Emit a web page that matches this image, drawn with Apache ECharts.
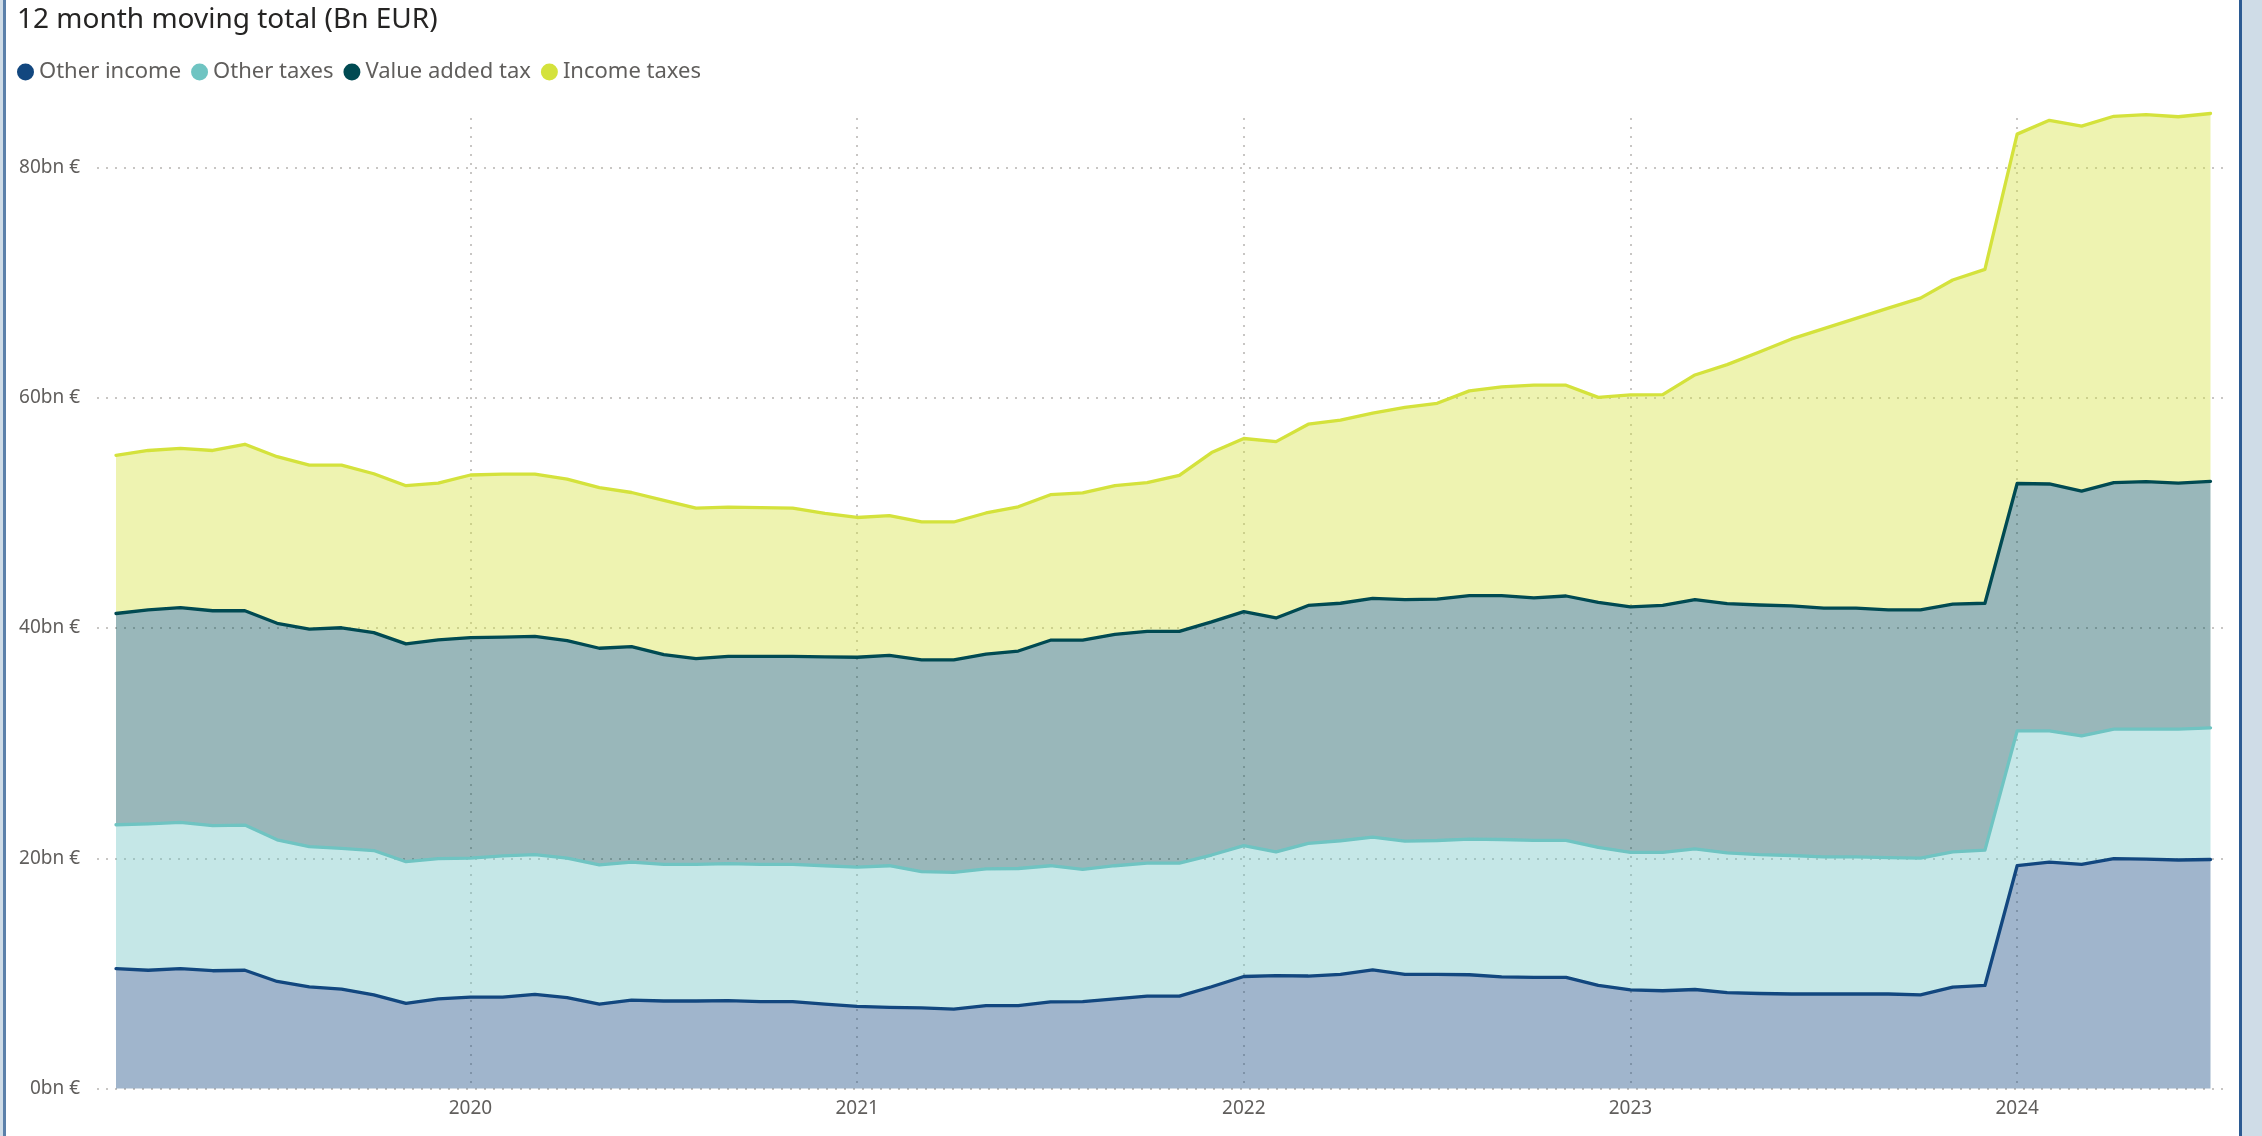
<!DOCTYPE html>
<html>
<head>
<meta charset="utf-8">
<title>12 month moving total</title>
<script src="https://cdn.jsdelivr.net/npm/echarts@6.0.0/dist/echarts.min.js"></script>
<style>
  html, body { margin: 0; padding: 0; background: #cfdce7; }
  #panel {
    position: absolute; left: 3px; top: 0; width: 2233px; height: 1136px;
    background: #fff; border-left: 3px solid #5b80aa; border-right: 3px solid #2b5a92;
  }
  #chart { position: absolute; left: 0; top: 0; width: 2262px; height: 1136px; }
</style>
</head>
<body>
<div id="panel"></div>
<div id="chart"></div>
<script>
// months, Feb 2019 - Jul 2024
const months = [
  '2019-02', '2019-03', '2019-04', '2019-05', '2019-06', '2019-07', '2019-08', '2019-09', '2019-10', '2019-11', '2019-12',
  '2020-01', '2020-02', '2020-03', '2020-04', '2020-05', '2020-06', '2020-07', '2020-08', '2020-09', '2020-10', '2020-11', '2020-12',
  '2021-01', '2021-02', '2021-03', '2021-04', '2021-05', '2021-06', '2021-07', '2021-08', '2021-09', '2021-10', '2021-11', '2021-12',
  '2022-01', '2022-02', '2022-03', '2022-04', '2022-05', '2022-06', '2022-07', '2022-08', '2022-09', '2022-10', '2022-11', '2022-12',
  '2023-01', '2023-02', '2023-03', '2023-04', '2023-05', '2023-06', '2023-07', '2023-08', '2023-09', '2023-10', '2023-11', '2023-12',
  '2024-01', '2024-02', '2024-03', '2024-04', '2024-05', '2024-06', '2024-07'
]

// bn EUR, 12 month moving totals
const otherIncome = [
  10.42, 10.27, 10.42, 10.23, 10.27, 9.30, 8.83, 8.64, 8.13, 7.40,
  7.79, 7.94, 7.94, 8.17, 7.90, 7.32, 7.67, 7.60, 7.60, 7.63,
  7.55, 7.55, 7.32, 7.13, 7.05, 7.01, 6.90, 7.20, 7.20, 7.52,
  7.55, 7.79, 8.02, 8.02, 8.84, 9.73, 9.80, 9.77, 9.92, 10.31,
  9.92, 9.92, 9.88, 9.69, 9.65, 9.65, 8.95, 8.56, 8.49, 8.60,
  8.33, 8.25, 8.21, 8.21, 8.21, 8.21, 8.13, 8.80, 8.95, 19.35,
  19.66, 19.46, 19.97, 19.93, 19.85, 19.89
]
const otherTaxes = [
  12.49, 12.72, 12.69, 12.61, 12.61, 12.30, 12.18, 12.22, 12.54, 12.30,
  12.18, 12.07, 12.26, 12.15, 12.11, 12.10, 11.99, 11.86, 11.86, 11.91,
  11.91, 11.91, 12.03, 12.10, 12.30, 11.83, 11.87, 11.88, 11.91, 11.83,
  11.49, 11.56, 11.56, 11.56, 11.44, 11.36, 10.75, 11.52, 11.60, 11.52,
  11.56, 11.62, 11.79, 11.94, 11.91, 11.91, 11.99, 11.95, 12.02, 12.22,
  12.14, 12.07, 12.03, 11.91, 11.91, 11.84, 11.88, 11.75, 11.75, 11.71,
  11.40, 11.17, 11.25, 11.29, 11.37, 11.44
]
const valueAddedTax = [
  18.35, 18.58, 18.66, 18.66, 18.62, 18.81, 18.89, 19.16, 18.93, 18.92,
  19.00, 19.16, 19.00, 18.96, 18.89, 18.82, 18.73, 18.23, 17.88, 18.00,
  18.08, 18.08, 18.15, 18.23, 18.27, 18.39, 18.46, 18.65, 18.89, 19.59,
  19.90, 20.09, 20.13, 20.13, 20.25, 20.33, 20.32, 20.67, 20.63, 20.75,
  20.99, 20.96, 21.14, 21.18, 21.06, 21.22, 21.29, 21.33, 21.45, 21.65,
  21.65, 21.68, 21.68, 21.61, 21.61, 21.52, 21.56, 21.53, 21.45, 21.49,
  21.45, 21.26, 21.41, 21.49, 21.37, 21.41
]
const incomeTaxes = [
  13.74, 13.85, 13.83, 13.92, 14.46, 14.47, 14.24, 14.12, 13.80, 13.74,
  13.62, 14.12, 14.17, 14.09, 14.04, 13.96, 13.38, 13.39, 13.08, 12.96,
  12.92, 12.88, 12.45, 12.14, 12.14, 11.98, 11.98, 12.26, 12.53, 12.64,
  12.80, 12.92, 12.92, 13.54, 14.71, 15.04, 15.32, 15.74, 15.90, 16.09,
  16.69, 17.02, 17.79, 18.13, 18.48, 18.31, 17.80, 18.41, 18.31, 19.51,
  20.76, 21.97, 23.19, 24.27, 25.17, 26.22, 27.08, 28.15, 29.00, 30.35,
  31.59, 31.70, 31.82, 31.88, 31.82, 31.95
]

const yTicks = [0, 20, 40, 60, 80]

const font = '"Segoe UI", "Noto Sans", sans-serif'
const gridDots = { color: '#c8c6c4', width: 2, type: [2, 7] }

// only January gets a label and a vertical grid line
function isJanuary (index, value) {
  return value.slice(5) === '01'
}

function areaSeries (name, data, color) {
  return {
    name: name,
    type: 'line',
    stack: 'total',
    data: data,
    xAxisIndex: 1,
    yAxisIndex: 1,
    symbol: 'none',
    clip: false,
    color: color,
    lineStyle: { color: color, width: 3.3, cap: 'round', join: 'round' },
    areaStyle: { color: color, opacity: 0.4 }
  }
}

const chart = echarts.init(document.getElementById('chart'), null, { renderer: 'canvas' })

chart.setOption({
  animation: false,
  backgroundColor: 'transparent',
  textStyle: { fontFamily: font },
  title: {
    text: '12 month moving total (Bn EUR)',
    left: 17,
    top: 6,
    padding: 0,
    textStyle: { fontFamily: font, fontSize: 28, fontWeight: 'normal', color: '#252423' }
  },
  legend: {
    left: 17,
    top: 61,
    padding: 0,
    icon: 'circle',
    itemWidth: 17,
    itemHeight: 17,
    itemGap: 10,
    textStyle: { fontFamily: font, fontSize: 22, color: '#605e5c' },
    data: ['Other income', 'Other taxes', 'Value added tax', 'Income taxes']
  },
  grid: [
    // wide grid: y labels and horizontal dotted lines
    { left: 97, right: 37, top: 118, bottom: 47.5 },
    // data grid: areas and the January lines
    { left: 116, right: 51.5, top: 118, bottom: 47.5 }
  ],
  xAxis: [
    { gridIndex: 0, type: 'value', show: false },
    {
      gridIndex: 1,
      type: 'category',
      data: months,
      boundaryGap: false,
      axisLine: { show: false },
      axisTick: { show: false },
      axisLabel: {
        interval: isJanuary,
        formatter: v => v.slice(0, 4),
        margin: 11,
        fontFamily: font,
        fontSize: 19,
        color: '#605e5c'
      },
      splitLine: { show: true, interval: isJanuary, lineStyle: gridDots }
    }
  ],
  yAxis: [
    {
      gridIndex: 0,
      type: 'value',
      min: yTicks[0],
      max: 84.3,
      interval: yTicks[1] - yTicks[0],
      axisLine: { show: false },
      axisTick: { show: false },
      axisLabel: {
        showMaxLabel: false,
        formatter: v => yTicks.includes(v) ? v + 'bn €' : '',
        margin: 17,
        fontFamily: font,
        fontSize: 19,
        color: '#605e5c'
      },
      splitLine: { show: true, showMaxLine: false, lineStyle: gridDots }
    },
    {
      gridIndex: 1,
      type: 'value',
      min: yTicks[0],
      max: 84.3,
      show: false,
      splitLine: { show: false }
    }
  ],
  series: [
    areaSeries('Other income', otherIncome, '#12477f'),
    areaSeries('Other taxes', otherTaxes, '#6fc4c2'),
    areaSeries('Value added tax', valueAddedTax, '#004a52'),
    areaSeries('Income taxes', incomeTaxes, '#d4e23c')
  ]
})
</script>
</body>
</html>
